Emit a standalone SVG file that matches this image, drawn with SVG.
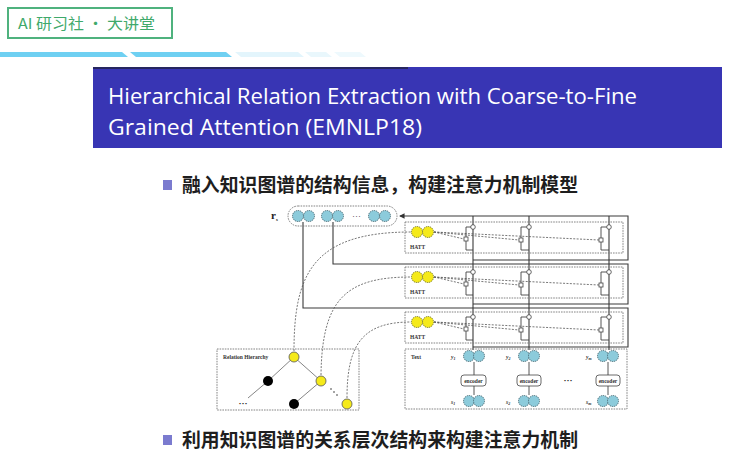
<svg xmlns="http://www.w3.org/2000/svg" width="740" height="461" viewBox="0 0 740 461">
<defs>
<style>
.cb{fill:#8ccbdb;stroke:#4d6e78;stroke-width:1;stroke-dasharray:1.3 0.8}
.cy{fill:#f5ea1a;stroke:#7a7a2a;stroke-width:1;stroke-dasharray:1.3 0.8}
.cyh{fill:#f5ea1a;stroke:#555;stroke-width:0.8}
.dbox{fill:none;stroke:#777;stroke-width:0.9;stroke-dasharray:1.6 1}
.solid{fill:none;stroke:#3a3a3a;stroke-width:1.1}
.thin{fill:none;stroke:#444;stroke-width:0.9}
.dash{fill:none;stroke:#555;stroke-width:0.8;stroke-dasharray:2 1.4}
.sq{fill:#fff;stroke:#444;stroke-width:0.8}
.sc{fill:#fff;stroke:#444;stroke-width:0.8}
.lbl{font-family:"Liberation Serif",serif;font-weight:bold;font-size:5.5px;fill:#333}
.enc{fill:#fff;stroke:#444;stroke-width:0.8}
.cn{font-family:"Noto Sans CJK SC","Noto Sans",sans-serif;font-weight:bold;font-size:19px;fill:#1e1e1e}
</style>
<marker id="arr" viewBox="0 0 6 6" refX="5" refY="3" markerWidth="5" markerHeight="5" orient="auto">
<path d="M0,0 L6,3 L0,6 z" fill="#333"/>
</marker>
</defs>
<rect width="740" height="461" fill="#fff"/>

<g id="header">
<rect x="8" y="8" width="164" height="30" fill="#fff" stroke="#4fb27e" stroke-width="2"/>
<text x="18" y="29" font-family="'Noto Sans CJK SC','Noto Sans',sans-serif" font-size="15" fill="#3fa96b" textLength="137" lengthAdjust="spacingAndGlyphs">AI 研习社 · 大讲堂</text>
</g>

<g id="stripe">
<polygon points="0,52 122,52 128,57 0,57" fill="#6fd0f2"/>
<polygon points="130,52 226,52 232,57 136,57" fill="#6fd0f2"/>
<polygon points="235,52 298,52 304,57 241,57" fill="#e3f5fc"/>
<polygon points="305,52 326,52 332,57 311,57" fill="#e9f7fc"/>
<polygon points="334,52 360,52 366,57 340,57" fill="#eef9fd"/>
</g>

<g id="title">
<rect x="93" y="67" width="629" height="81" fill="#3835b4"/>
<rect x="93" y="67" width="315" height="2" fill="#262660"/>
<text x="108" y="104" font-family="'Open Sans','Liberation Sans',sans-serif" font-size="21" fill="#fff" textLength="529" lengthAdjust="spacingAndGlyphs">Hierarchical Relation Extraction with Coarse-to-Fine</text>
<text x="108" y="135" font-family="'Open Sans','Liberation Sans',sans-serif" font-size="21" fill="#fff" textLength="314" lengthAdjust="spacingAndGlyphs">Grained Attention (EMNLP18)</text>
</g>

<g id="bullet1">
<rect x="163" y="180" width="9" height="10" fill="#7b7bcf"/>
<text class="cn" x="182" y="192" textLength="396" lengthAdjust="spacingAndGlyphs">融入知识图谱的结构信息，构建注意力机制模型</text>
</g>

<g id="bullet2">
<rect x="163" y="435" width="9" height="10" fill="#7b7bcf"/>
<text class="cn" x="182" y="447" textLength="396" lengthAdjust="spacingAndGlyphs">利用知识图谱的关系层次结构来构建注意力机制</text>
</g>

<g id="connectors">
<path class="solid" d="M473,260 H628 V216 H400" marker-end="url(#arr)"/>
<path class="solid" d="M333,222 V264 H628 V304 H473"/>
<path class="solid" d="M303,222 V308 H628 V347 H473"/>
<path class="solid" d="M473,216 V350"/>
<path class="solid" d="M529,216 V350"/>
<path class="solid" d="M609,216 V350"/>
<path class="dash" d="M294,351 C294,275 312,232 411,232"/>
<path class="dash" d="M321,375 C322,300 345,277 411,277"/>
<path class="dash" d="M347,398 C347,345 362,322 411,322"/>
</g>

<g id="rs">
<text x="271" y="219" font-family="'Liberation Serif',serif" font-weight="bold" font-size="11" fill="#222">r<tspan font-size="5" dy="2">s</tspan></text>
<rect class="dbox" x="288" y="206" width="109" height="20" rx="10" stroke="#555"/>
<circle class="cb" cx="298" cy="216" r="5.5"/>
<circle class="cb" cx="309" cy="216" r="5.5"/>
<circle class="cb" cx="327" cy="216" r="5.5"/>
<circle class="cb" cx="338" cy="216" r="5.5"/>
<text x="352" y="219" font-family="'Liberation Serif',serif" font-size="9" fill="#333">···</text>
<circle class="cb" cx="374" cy="216" r="5.5"/>
<circle class="cb" cx="385" cy="216" r="5.5"/>
</g>

<g id="hatt1">
<rect class="dbox" x="405" y="222" width="218" height="31"/>
<path class="dash" d="M434,232 L464,239 M434,232 L519,240 M434,232 L599,240"/>
<circle class="cy" cx="417" cy="232" r="5.5"/>
<circle class="cy" cx="428" cy="232" r="5.5"/>
<text class="lbl" x="410" y="249">HATT</text>
<path class="thin" d="M471,227 H466 V250 H473 M527,227 H521 V250 H529 M607,227 H601 V250 H609"/>
<rect class="sq" x="464" y="237" width="4" height="4"/>
<rect class="sq" x="519" y="238" width="4" height="4"/>
<rect class="sq" x="599" y="238" width="4" height="4"/>
<circle class="sc" cx="473" cy="227" r="2.3"/>
<circle class="sc" cx="529" cy="227" r="2.3"/>
<circle class="sc" cx="609" cy="227" r="2.3"/>
</g>

<g id="hatt2">
<rect class="dbox" x="405" y="267" width="218" height="31"/>
<path class="dash" d="M434,277 L464,284 M434,277 L519,285 M434,277 L599,285"/>
<circle class="cy" cx="417" cy="277" r="5.5"/>
<circle class="cy" cx="428" cy="277" r="5.5"/>
<text class="lbl" x="410" y="294">HATT</text>
<path class="thin" d="M471,272 H466 V295 H473 M527,272 H521 V295 H529 M607,272 H601 V295 H609"/>
<rect class="sq" x="464" y="282" width="4" height="4"/>
<rect class="sq" x="519" y="283" width="4" height="4"/>
<rect class="sq" x="599" y="283" width="4" height="4"/>
<circle class="sc" cx="473" cy="272" r="2.3"/>
<circle class="sc" cx="529" cy="272" r="2.3"/>
<circle class="sc" cx="609" cy="272" r="2.3"/>
</g>

<g id="hatt3">
<rect class="dbox" x="405" y="312" width="218" height="31"/>
<path class="dash" d="M434,322 L464,329 M434,322 L519,330 M434,322 L599,330"/>
<circle class="cy" cx="417" cy="322" r="5.5"/>
<circle class="cy" cx="428" cy="322" r="5.5"/>
<text class="lbl" x="410" y="339">HATT</text>
<path class="thin" d="M471,317 H466 V340 H473 M527,317 H521 V340 H529 M607,317 H601 V340 H609"/>
<rect class="sq" x="464" y="327" width="4" height="4"/>
<rect class="sq" x="519" y="328" width="4" height="4"/>
<rect class="sq" x="599" y="328" width="4" height="4"/>
<circle class="sc" cx="473" cy="317" r="2.3"/>
<circle class="sc" cx="529" cy="317" r="2.3"/>
<circle class="sc" cx="609" cy="317" r="2.3"/>
</g>

<g id="text-box">
<rect class="dbox" x="405" y="349" width="222" height="60"/>
<text class="lbl" x="411" y="359">Text</text>
<path class="thin" d="M474,362 V375 M474,386 V395 M529,362 V375 M529,386 V395 M608,362 V375 M608,386 V395"/>
<text class="lbl" x="451" y="359" font-style="italic">y<tspan font-size="4" dy="1">1</tspan></text>
<text class="lbl" x="506" y="359" font-style="italic">y<tspan font-size="4" dy="1">2</tspan></text>
<text class="lbl" x="586" y="359" font-style="italic">y<tspan font-size="4" dy="1">m</tspan></text>
<circle class="cb" cx="469" cy="356" r="5.5"/>
<circle class="cb" cx="479" cy="356" r="5.5"/>
<circle class="cb" cx="524" cy="356" r="5.5"/>
<circle class="cb" cx="534" cy="356" r="5.5"/>
<circle class="cb" cx="603" cy="356" r="5.5"/>
<circle class="cb" cx="613" cy="356" r="5.5"/>
<rect class="enc" x="461" y="375" width="25" height="11" rx="3"/>
<rect class="enc" x="517" y="375" width="24" height="11" rx="3"/>
<rect class="enc" x="596" y="375" width="24" height="11" rx="3"/>
<text class="lbl" x="473.5" y="382.5" text-anchor="middle">encoder</text>
<text class="lbl" x="529" y="382.5" text-anchor="middle">encoder</text>
<text class="lbl" x="608" y="382.5" text-anchor="middle">encoder</text>
<text x="568" y="383" font-family="'Liberation Serif',serif" font-weight="bold" font-size="9" fill="#333" text-anchor="middle">···</text>
<text class="lbl" x="451" y="404" font-style="italic">s<tspan font-size="4" dy="1">1</tspan></text>
<text class="lbl" x="506" y="404" font-style="italic">s<tspan font-size="4" dy="1">2</tspan></text>
<text class="lbl" x="586" y="404" font-style="italic">s<tspan font-size="4" dy="1">m</tspan></text>
<circle class="cb" cx="469" cy="401" r="5.5"/>
<circle class="cb" cx="479" cy="401" r="5.5"/>
<circle class="cb" cx="524" cy="401" r="5.5"/>
<circle class="cb" cx="534" cy="401" r="5.5"/>
<circle class="cb" cx="603" cy="401" r="5.5"/>
<circle class="cb" cx="613" cy="401" r="5.5"/>
</g>

<g id="hierarchy">
<rect class="dbox" x="217" y="349" width="142" height="61"/>
<text class="lbl" x="223" y="359">Relation Hierarchy</text>
<path fill="none" stroke="#777" stroke-width="0.9" d="M294,357 L268,381 L248,398 M294,357 L321,381 L294,404"/>
<text x="243" y="406" font-family="'Liberation Serif',serif" font-weight="bold" font-size="9" fill="#333" text-anchor="middle">···</text>
<circle cx="331" cy="389" r="0.8" fill="#333"/>
<circle cx="334" cy="392" r="0.8" fill="#333"/>
<circle cx="337" cy="395" r="0.8" fill="#333"/>
<circle class="cyh" cx="294" cy="357" r="5"/>
<circle cx="268" cy="381" r="5" fill="#000"/>
<circle class="cyh" cx="321" cy="381" r="5"/>
<circle cx="294" cy="404" r="5" fill="#000"/>
<circle class="cyh" cx="347" cy="404" r="5"/>
</g>
</svg>
